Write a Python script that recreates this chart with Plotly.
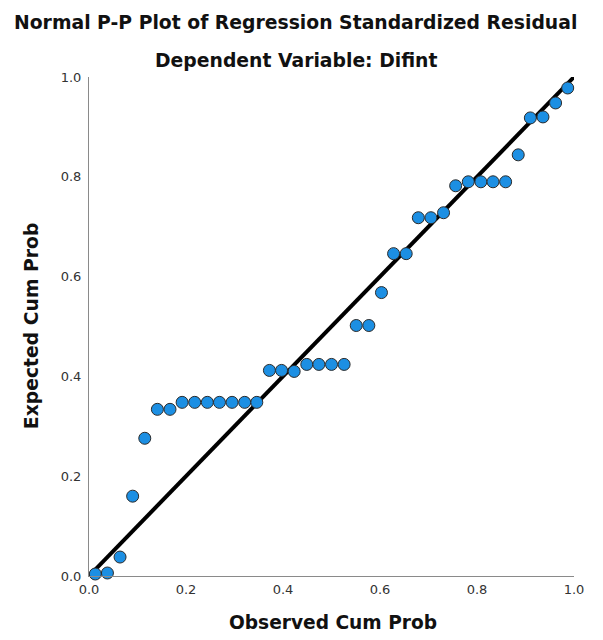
import plotly.graph_objects as go

observed_cum_prob = [0.013, 0.038, 0.064, 0.090, 0.115, 0.141, 0.167, 0.192, 0.218, 0.244,
                     0.269, 0.295, 0.321, 0.346, 0.372, 0.397, 0.423, 0.449, 0.474, 0.500,
                     0.526, 0.551, 0.577, 0.603, 0.628, 0.654, 0.679, 0.705, 0.731, 0.756,
                     0.782, 0.808, 0.833, 0.859, 0.885, 0.910, 0.936, 0.962, 0.987]
expected_cum_prob = [0.004, 0.006, 0.038, 0.160, 0.276, 0.334, 0.334, 0.348, 0.348, 0.348,
                     0.348, 0.348, 0.348, 0.348, 0.412, 0.412, 0.410, 0.424, 0.424, 0.424,
                     0.424, 0.502, 0.502, 0.568, 0.646, 0.646, 0.718, 0.718, 0.728, 0.782,
                     0.790, 0.790, 0.790, 0.790, 0.844, 0.918, 0.920, 0.948, 0.978]
ref_line_x = [0.0, 1.0]
ref_line_y = [0.0, 1.0]
tick_vals = [0.0, 0.2, 0.4, 0.6, 0.8, 1.0]
tick_text = ["0.0", "0.2", "0.4", "0.6", "0.8", "1.0"]

FONT = "DejaVu Sans"

fig = go.Figure()
fig.add_trace(go.Scatter(x=ref_line_x, y=ref_line_y, mode="lines",
                         line=dict(color="black", width=4), cliponaxis=False,
                         hoverinfo="skip", showlegend=False))
fig.add_trace(go.Scatter(x=observed_cum_prob, y=expected_cum_prob, mode="markers",
                         marker=dict(size=12, color="#1c8fe3",
                                     line=dict(color="#2b2b2b", width=1)),
                         cliponaxis=False, showlegend=False))

# the page has an 8px body margin: a 587x624 figure fills the 603x640 window
W, H = 587, 624
L, R, T, B = 81, 11, 69, 56
fig.update_layout(
    width=W, height=H,
    margin=dict(l=L, r=R, t=T, b=B),
    paper_bgcolor="white", plot_bgcolor="white",
    font=dict(family=FONT, color="#222"),
    showlegend=False,
    xaxis=dict(range=[0, 1], tickvals=tick_vals, ticktext=tick_text,
               showgrid=False, zeroline=False, showline=True,
               linecolor="#8a8a8a", linewidth=1, ticks="",
               ticklabelstandoff=1,
               tickfont=dict(size=13, family=FONT, color="#333")),
    yaxis=dict(range=[0, 1], tickvals=tick_vals, ticktext=tick_text,
               showgrid=False, zeroline=False, showline=True,
               linecolor="#8a8a8a", linewidth=1, ticks="",
               ticklabelstandoff=4,
               tickfont=dict(size=13, family=FONT, color="#333")),
)

pw = W - L - R
ph = H - T - B

def px(xpage):
    return (xpage - 8 - L) / pw

def py(ypage):
    return (H - B - (ypage - 8)) / ph

def ann(text, x, y, size, angle=0):
    fig.add_annotation(text=text, x=x, y=y, xref="paper", yref="paper",
                       showarrow=False, textangle=angle, borderpad=0,
                       font=dict(size=size, family=FONT, color="#111"),
                       xanchor="center", yanchor="middle")

ann("<b>Normal P-P Plot of Regression Standardized Residual</b>", px(300), py(22), 18.8)
ann("<b>Dependent Variable: Difint</b>", px(300), py(60), 18.8)
ann("<b>Observed Cum Prob</b>", px(338), py(622), 18.6)
ann("<b>Expected Cum Prob</b>", px(30), py(326), 18.8, angle=-90)

fig.write_html("out.html", config={"displayModeBar": False})
